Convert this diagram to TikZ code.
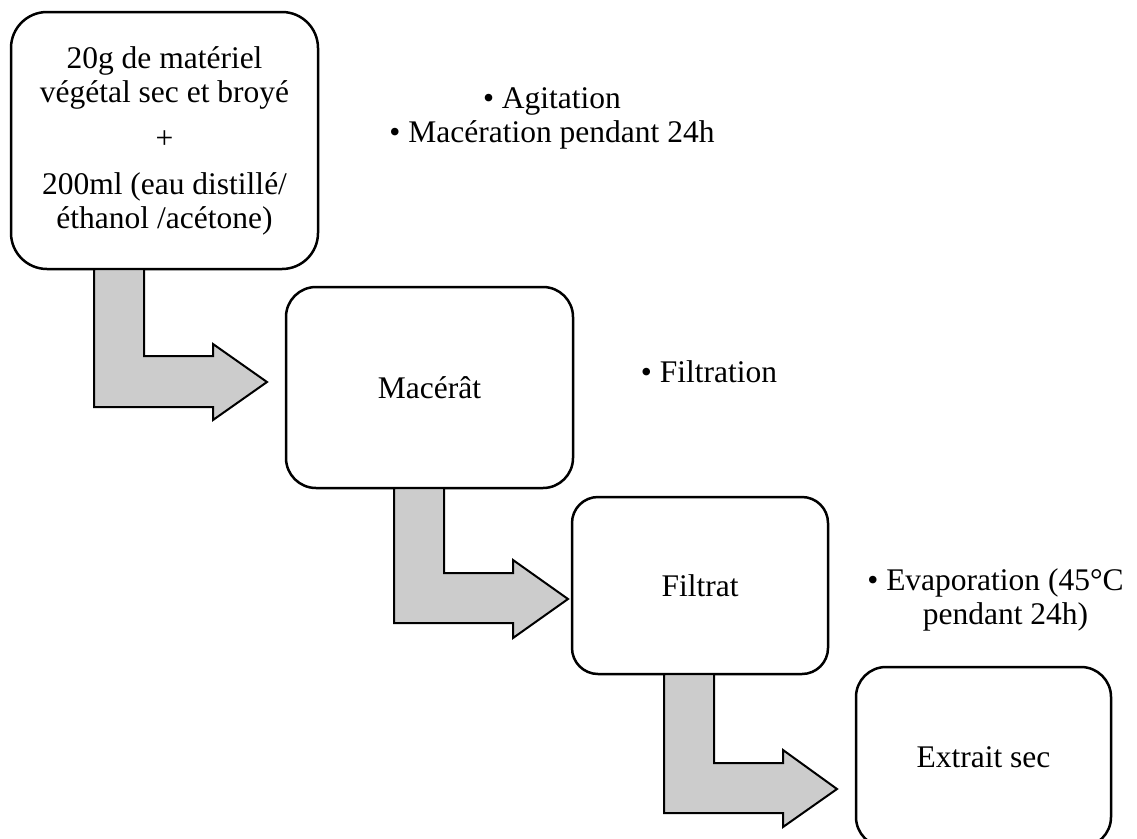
\documentclass[tikz,border=0pt]{standalone}
\usepackage{fontspec}
\setmainfont{Liberation Serif}
\usepackage{tikz}
\usetikzlibrary{calc}

\begin{document}
\begin{tikzpicture}[line cap=round,line join=round,x=1pt,y=-1pt,
    every node/.style={font=\fontsize{31.5}{34}\selectfont},
    stepbox/.style={draw,line width=2.5pt,fill=white,align=center,inner sep=0pt,outer sep=0pt},
    bentarrow/.style={draw,line width=2pt,line join=miter,fill=black!20},
    notetext/.style={align=center,inner sep=0pt}]
    \clip (0,0) rectangle (1137,838);
    % steps
    \node[stepbox,rounded corners=36pt,minimum width=307pt,minimum height=257pt] (mat) at (164.5,140.5)
        {20g de matériel\\végétal sec et broyé\\[12pt]+\\[12pt]200ml (eau distillé/\\éthanol /acétone)};
    \node[stepbox,rounded corners=30pt,minimum width=287pt,minimum height=201pt] (mac) at (429.5,387.5) {Macérât};
    \node[stepbox,rounded corners=26pt,minimum width=256pt,minimum height=177pt] (fil) at (700,585.5) {Filtrat};
    \node[stepbox,rounded corners=30pt,minimum width=255pt,minimum height=180pt] (ext) at (983.5,757) {Extrait sec};
    % notes
    \node[notetext] (agit) at (552,118) {• Agitation\\• Macération pendant 24h};
    \node[notetext] (filt) at (709,372) {• Filtration};
    \node[notetext] (evap) at (995.5,600) {• Evaporation (45°C\\\hspace*{20pt}pendant 24h)};
    % bent arrows
    \draw[bentarrow] ($(mat.south west)+(83,0)$) -- ++(50,0) -- ++(0,87) -- ++(69,0) -- ++(0,-12)
        -- ++(54,38) -- ++(-54,38) -- ++(0,-13) -- ++(-119,0) -- cycle;
    \draw[bentarrow] ($(mac.south west)+(108,0)$) -- ++(50,0) -- ++(0,85) -- ++(69,0) -- ++(0,-13)
        -- ++(55,39) -- ++(-55,39) -- ++(0,-15) -- ++(-119,0) -- cycle;
    \draw[bentarrow] ($(fil.south west)+(92,0)$) -- ++(50,0) -- ++(0,89) -- ++(69,0) -- ++(0,-13)
        -- ++(54,39) -- ++(-54,38) -- ++(0,-14) -- ++(-119,0) -- cycle;
\end{tikzpicture}
\end{document}
